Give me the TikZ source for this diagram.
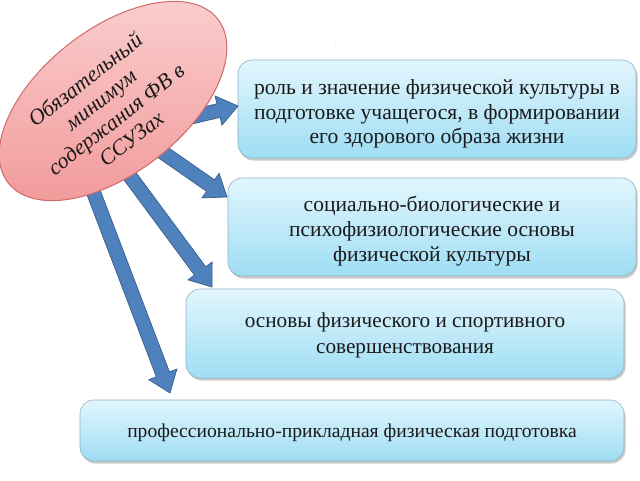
\documentclass[tikz,border=0pt]{standalone}
\usepackage{fontspec}
\setmainfont{Liberation Serif}
\usetikzlibrary{shapes.geometric,calc,shadows}
\definecolor{arrfill}{HTML}{4F81BD}
\definecolor{arrline}{HTML}{385D8A}
\definecolor{boxtop}{HTML}{E2F6FD}
\definecolor{boxbot}{HTML}{9EDDF4}
\definecolor{boxline}{HTML}{8FB2C4}
\definecolor{pinkA}{HTML}{FAD0D0}
\definecolor{pinkB}{HTML}{F29A9A}
\definecolor{ellline}{HTML}{D06A6A}
\definecolor{txt}{HTML}{1A1A1A}
\newcommand{\blockarrow}[2]{%
  \coordinate (hb) at ($(#2)!20pt!(#1)$);
  \filldraw[fill=arrfill, draw=arrline, line width=0.7pt, line join=miter]
    ($(#1)!7pt!90:(#2)$) -- ($(hb)!7pt!-90:(#1)$) -- ($(hb)!15pt!-90:(#1)$) --
    (#2) -- ($(hb)!15pt!90:(#1)$) -- ($(hb)!7pt!90:(#1)$) -- ($(#1)!7pt!-90:(#2)$) -- cycle;
}
\tikzset{
  infobox/.style={draw=boxline, line width=0.6pt, rounded corners=14pt,
    top color=boxtop, bottom color=boxbot, inner sep=0pt,
    drop shadow={shadow xshift=1.5pt, shadow yshift=-2.5pt, opacity=0.35, fill=black!60}},
  boxtext/.style={align=center, text=txt, inner sep=0pt},
  mainell/.style={ellipse, draw=ellline, line width=1pt, top color=pinkA, bottom color=pinkB, inner sep=0pt},
  elltext/.style={align=center, text=txt, font=\itshape\fontsize{22}{25}\selectfont, inner sep=0pt}
}
\begin{document}
\begin{tikzpicture}[x=1pt,y=-1pt]
\fill[white] (0,0) rectangle (640,480);
\useasboundingbox (0,0) rectangle (640,480);

\node[font=\scriptsize, text=black!35] (colon) at (336,44) {:};

\node[infobox, minimum width=398pt, minimum height=98pt] (b1) at (437,109) {};
\node[boxtext, font=\fontsize{21.6}{24.5}\selectfont, yshift=-5pt] (b1t) at (b1.center)
  {роль и значение физической культуры в\\подготовке учащегося, в формировании\\его здорового образа жизни};
\node[infobox, minimum width=408pt, minimum height=98pt] (b2) at (432,227) {};
\node[boxtext, font=\fontsize{21.5}{25}\selectfont, yshift=-4pt] (b2t) at (b2.center)
  {социально-биологические и\\психофизиологические основы\\физической культуры};
\node[infobox, minimum width=438pt, minimum height=89pt] (b3) at (405,333.5) {};
\node[boxtext, font=\fontsize{21.2}{26}\selectfont, yshift=-2pt] (b3t) at (b3.center)
  {основы физического и спортивного\\совершенствования};
\node[infobox, minimum width=544pt, minimum height=61pt] (b4) at (352,430.5) {};
\node[boxtext, font=\fontsize{19.6}{24}\selectfont, yshift=-2pt] (b4t) at (b4.center)
  {профессионально-прикладная физическая подготовка};

\coordinate (s1) at (170,122);
\coordinate (t1) at (238,106);
\coordinate (s2) at (145,140);
\coordinate (t2) at (227,197);
\coordinate (s3) at (118,160);
\coordinate (t3) at (212,287);
\coordinate (s4) at (85,170);
\coordinate (t4) at (170,393);
\blockarrow{s1}{t1}
\blockarrow{s2}{t2}
\blockarrow{s3}{t3}
\blockarrow{s4}{t4}

\node[mainell, minimum width=266pt, minimum height=144pt, rotate=38] (el) at (113,101) {};
\node[elltext, rotate=38] (elt) at (108,109)
  {Обязательный\\минимум\\содержания ФВ в\\ССУЗах};
\end{tikzpicture}
\end{document}
